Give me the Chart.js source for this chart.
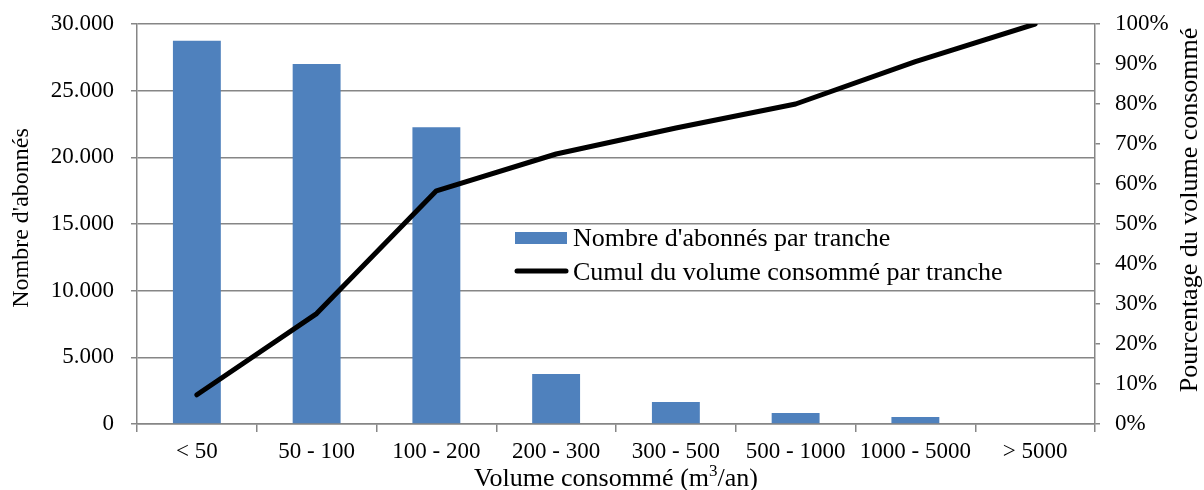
<!DOCTYPE html>
<html><head><meta charset="utf-8">
<script src="https://cdn.jsdelivr.net/npm/chart.js@4"></script>
<style>html,body{margin:0;padding:0;background:#fff}#wrap{width:1204px;height:490px}</style>
</head><body><div id="wrap"><canvas id="c" width="1204" height="490"></canvas></div>
<script>
const categories = ['< 50','50 - 100','100 - 200','200 - 300','300 - 500','500 - 1000','1000 - 5000','> 5000'];
const subscribers = [28750, 27000, 22250, 3750, 1650, 820, 520, 50];
const cumulPct = [7.3, 27.6, 58.3, 67.5, 74.0, 80.0, 90.6, 100];
const seriesNames = ["Nombre d'abonnés par tranche", "Cumul du volume consommé par tranche"];
const leftTitle = "Nombre d'abonnés";
const rightTitle = "Pourcentage du volume consommé";
const xTitleParts = ["Volume consommé (m", "3", "/an)"];

const FONT = "'Liberation Serif', 'Times New Roman', serif";
const GRID = '#868686';
const BLUE = '#4F81BD';

const overlayPlugin = {
  id: 'overlay',
  afterDraw(chart) {
    const ctx = chart.ctx;
    const ca = chart.chartArea;
    const yS = chart.scales.y;
    const gTop = yS.getPixelForValue(15000), gBot = yS.getPixelForValue(10000);
    ctx.save();
    // legend
    ctx.fillStyle = '#fff';
    ctx.fillRect(510, gTop + 1.5, 510, gBot - gTop - 3);
    ctx.font = '26px ' + FONT;
    ctx.textBaseline = 'middle';
    ctx.textAlign = 'left';
    ctx.fillStyle = BLUE;
    ctx.fillRect(515, 232, 52, 12);
    ctx.fillStyle = '#000';
    ctx.fillText(seriesNames[0], 573, 239);
    ctx.strokeStyle = '#000';
    ctx.lineWidth = 5;
    ctx.lineCap = 'round';
    ctx.beginPath(); ctx.moveTo(517, 271); ctx.lineTo(566, 271); ctx.stroke();
    ctx.fillText(seriesNames[1], 573, 273);

    // x title with superscript
    const f1 = '26px ' + FONT, f2 = '17px ' + FONT;
    ctx.font = f1; const w1 = ctx.measureText(xTitleParts[0]).width, w3 = ctx.measureText(xTitleParts[2]).width;
    ctx.font = f2; const w2 = ctx.measureText(xTitleParts[1]).width;
    const total = w1 + w2 + w3;
    let x = (ca.left + ca.right) / 2 - total / 2;
    const yb = 486;
    ctx.textBaseline = 'alphabetic';
    ctx.font = f1; ctx.fillText(xTitleParts[0], x, yb); x += w1;
    ctx.font = f2; ctx.fillText(xTitleParts[1], x, yb - 10); x += w2;
    ctx.font = f1; ctx.fillText(xTitleParts[2], x, yb);

    // y titles, both reading bottom-to-top
    ctx.textAlign = 'center';
    ctx.textBaseline = 'middle';
    ctx.font = '24px ' + FONT;
    ctx.save(); ctx.translate(22, 218); ctx.rotate(-Math.PI / 2); ctx.fillText(leftTitle, 0, 0); ctx.restore();
    ctx.font = '26px ' + FONT;
    ctx.save(); ctx.translate(1190, 210); ctx.rotate(-Math.PI / 2); ctx.fillText(rightTitle, 0, 0); ctx.restore();
    ctx.restore();
  }
};

new Chart(document.getElementById('c'), {
  data: {
    labels: categories,
    datasets: [
      { type: 'line', label: seriesNames[1], data: cumulPct, yAxisID: 'y2', borderColor: '#000', borderWidth: 5,
        pointRadius: 0, tension: 0, borderCapStyle: 'round', borderJoinStyle: 'round', order: 0 },
      { type: 'bar', label: seriesNames[0], data: subscribers, yAxisID: 'y', backgroundColor: BLUE,
        categoryPercentage: 1, barPercentage: 0.4, order: 1 }
    ]
  },
  options: {
    responsive: false, animation: false,
    layout: { padding: { top: 24, left: 0, right: 0, bottom: 0 } },
    plugins: { legend: { display: false }, tooltip: { enabled: false } },
    scales: {
      x: {
        grid: { display: true, offset: true, drawOnChartArea: false, drawTicks: true, tickLength: 8, color: GRID, lineWidth: 1.5 },
        border: { display: true, color: GRID, width: 1.5 },
        ticks: { color: '#000', font: { family: FONT, size: 23 }, padding: 6, maxRotation: 0, autoSkip: false },
        title: { display: false },
        afterFit(s) { s.height = 66; s.paddingLeft = 0; s.paddingRight = 0; }
      },
      y: {
        position: 'left', min: 0, max: 30000,
        ticks: { stepSize: 5000, color: '#000', font: { family: FONT, size: 23 }, padding: 17,
          callback: v => v === 0 ? '0' : v.toLocaleString('de-DE') },
        grid: { color: GRID, lineWidth: 1.5, tickLength: 6 },
        border: { display: true, color: GRID, width: 1.5 },
        title: { display: false },
        afterFit(s) { s.width = 137; s.paddingTop = 0; s.paddingBottom = 0; }
      },
      y2: {
        position: 'right', min: 0, max: 100,
        ticks: { stepSize: 10, color: '#000', font: { family: FONT, size: 23 }, padding: 15, callback: v => v + '%' },
        grid: { drawOnChartArea: false, color: GRID, lineWidth: 1.5, tickLength: 5 },
        border: { display: true, color: GRID, width: 1.5 },
        title: { display: false },
        afterFit(s) { s.width = 109; s.paddingTop = 0; s.paddingBottom = 0; }
      }
    }
  },
  plugins: [overlayPlugin]
});
</script></body></html>
